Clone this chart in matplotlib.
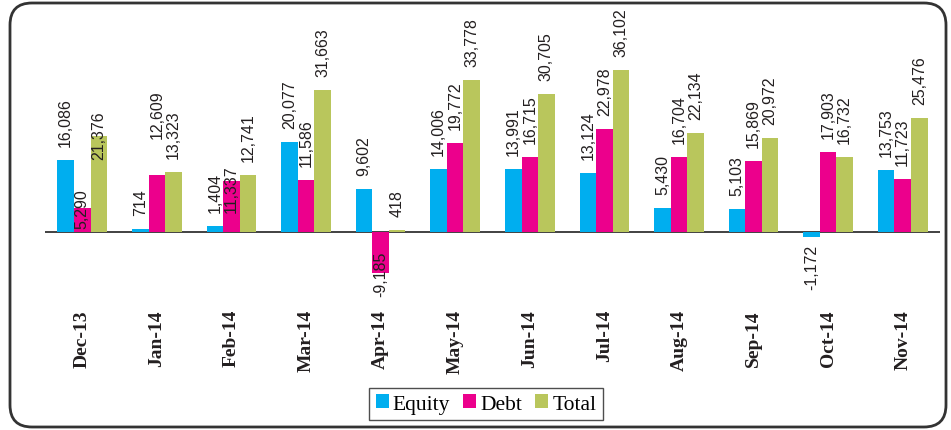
import numpy as np
import matplotlib
matplotlib.use("Agg")
import matplotlib.pyplot as plt
from matplotlib.patches import FancyBboxPatch
from matplotlib.transforms import IdentityTransform

months = ["Dec-13", "Jan-14", "Feb-14", "Mar-14", "Apr-14", "May-14",
          "Jun-14", "Jul-14", "Aug-14", "Sep-14", "Oct-14", "Nov-14"]
equity = [16086, 714, 1404, 20077, 9602, 14006, 13991, 13124, 5430, 5103, -1172, 13753]
debt = [5290, 12609, 11337, 11586, -9185, 19772, 16715, 22978, 16704, 15869, 17903, 11723]
total = [21376, 13323, 12741, 31663, 418, 33778, 30705, 36102, 22134, 20972, 16732, 25476]

series_names = ["Equity", "Debt", "Total"]
colors = ["#00AEEF", "#EC008C", "#B9C65C"]

# label vertical offsets in pixels (style, not data)
default_off = 14
label_off = {
    (1, 0): -20, (2, 0): -23, (1, 1): 37, (1, 2): -31,
    (1, 4): 23, (0, 10): -7,
}

W, H = 951, 431
fig = plt.figure(figsize=(W / 100, H / 100), dpi=100)
fig.patch.set_facecolor("white")

px_per_unit = 162.0 / 36102.0
zero_px = 233
ymin, ymax = -15000, 50000
ax_bottom_px = zero_px + (-ymin) * px_per_unit
ax_h_px = (ymax - ymin) * px_per_unit
left_px, right_px = 45, 940
ax = fig.add_axes([left_px / W, 1 - ax_bottom_px / H, (right_px - left_px) / W, ax_h_px / H])
ax.set_xlim(-0.5, len(months) - 0.5)
ax.set_ylim(ymin, ymax)

x = np.arange(len(months))
w = 0.222
data = [equity, debt, total]
handles = []
for s, (vals, col, name) in enumerate(zip(data, colors, series_names)):
    xs = x + (s - 1) * w
    b = ax.bar(xs, vals, width=w, color=col, edgecolor="none", label=name, zorder=2)
    handles.append(b)
    for i, (xi, v) in enumerate(zip(xs, vals)):
        off = label_off.get((s, i), default_off if v >= 0 else -default_off)
        va = "bottom" if v >= 0 else "top"
        ax.annotate(f"{v:,}", xy=(xi, v), xytext=(0, off * 0.72), textcoords="offset points",
                    rotation=90, ha="center", va=va, fontsize=11.5,
                    family="Liberation Sans", color="#231F20", zorder=3)

ax.axhline(0, color="#333333", lw=1.3, zorder=1)
for sp in ax.spines.values():
    sp.set_visible(False)
ax.set_yticks([])
ax.set_xticks(x)
ax.set_xticklabels(months, rotation=90, fontsize=14, fontweight="bold",
                   family="Liberation Serif", color="#231F20")
ax.tick_params(axis="x", length=0, pad=7)
ax.set_facecolor("none")

leg = fig.legend(handles=handles, labels=series_names, loc="center",
                 bbox_to_anchor=(486 / W, 1 - 405 / H), ncol=3, frameon=True,
                 fancybox=False, edgecolor="#222222", handlelength=0.6, handleheight=0.6,
                 handletextpad=0.2, columnspacing=0.6, borderpad=0.3,
                 prop={"family": "Liberation Serif", "size": 15.5})
leg.get_frame().set_linewidth(1.0)

border = FancyBboxPatch((10, 3), 936, 424, boxstyle="round,pad=0,rounding_size=22",
                        transform=IdentityTransform(), facecolor="none",
                        edgecolor="#333333", linewidth=2)
fig.patches.append(border)

fig.savefig("out.png", dpi=100)
